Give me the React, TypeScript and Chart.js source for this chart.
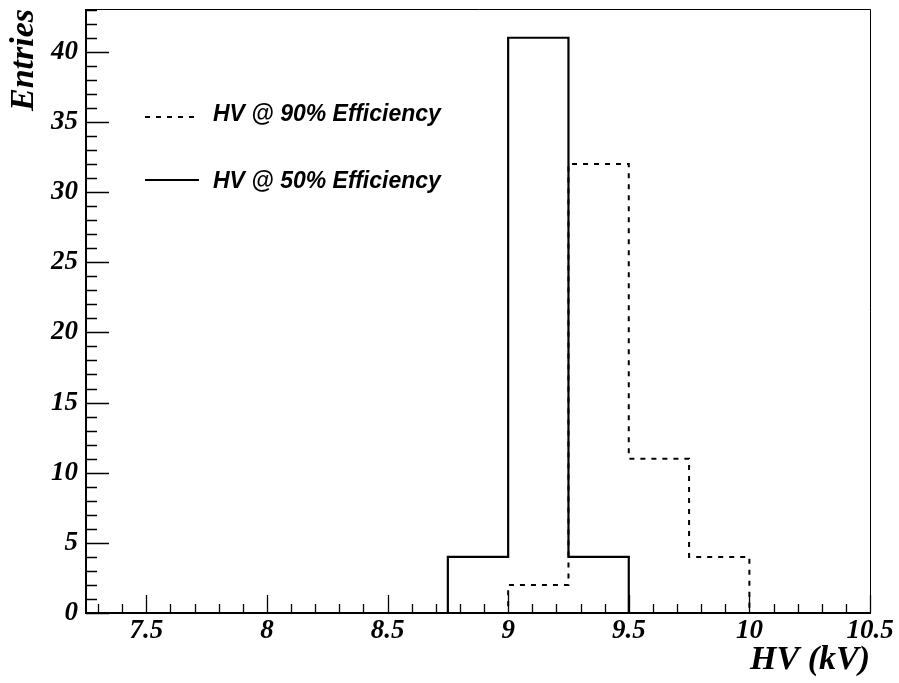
import React, { useEffect, useRef } from "react";
import { Chart, registerables } from "chart.js";

Chart.register(...registerables);

// Histogram bin edges (kV) and bin contents
const binEdges = [7.25, 7.5, 7.75, 8, 8.25, 8.5, 8.75, 9, 9.25, 9.5, 9.75, 10, 10.25, 10.5];
const eff90Counts = [0, 0, 0, 0, 0, 0, 0, 2, 32, 11, 4, 0, 0];
const eff50Counts = [0, 0, 0, 0, 0, 0, 4, 41, 4, 0, 0, 0, 0];
const seriesLabels = ["HV @ 90% Efficiency", "HV @ 50% Efficiency"];
const xLabelValues = [7.5, 8, 8.5, 9, 9.5, 10, 10.5];
const yLabelValues = [0, 5, 10, 15, 20, 25, 30, 35, 40];
const xTitle = "HV (kV)";
const yTitle = "Entries";

const X_MIN = 7.25;
const X_MAX = 10.5;
const Y_MAX = 41 * 1.05;

function histPoints(edges: number[], counts: number[]) {
  const pts = counts.map((c, i) => ({ x: edges[i], y: c }));
  pts.push({ x: edges[edges.length - 1], y: counts[counts.length - 1] });
  return pts;
}

const serifFont = "'Liberation Serif', 'Times New Roman', serif";
const sansFont = "'Liberation Sans', Arial, Helvetica, sans-serif";

const near = (a: number, b: number) => Math.abs(a - b) < 1e-6;

const framePlugin = {
  id: "rootFrame",
  beforeDatasetsDraw(chart: any) {
    const { ctx, chartArea } = chart;
    const { left, right, top, bottom } = chartArea;
    const xs = chart.scales.x;
    const ys = chart.scales.y;
    ctx.save();
    ctx.strokeStyle = "#000";
    // thin top/right frame
    ctx.lineWidth = 1;
    ctx.beginPath();
    ctx.moveTo(left, top + 0.5);
    ctx.lineTo(right + 0.5, top + 0.5);
    ctx.lineTo(right + 0.5, bottom);
    ctx.stroke();
    // ticks
    ctx.lineWidth = 1.3;
    ctx.beginPath();
    xs.ticks.forEach((t: any) => {
      const px = Math.round(xs.getPixelForValue(t.value)) + 0.5;
      const major = xLabelValues.some((v) => near(v, t.value));
      const len = major ? 18 : 9;
      ctx.moveTo(px, bottom);
      ctx.lineTo(px, bottom - len);
    });
    ys.ticks.forEach((t: any) => {
      const py = Math.round(ys.getPixelForValue(t.value)) + 0.5;
      const major = yLabelValues.some((v) => near(v, t.value));
      const len = major ? 23 : 11;
      ctx.moveTo(left, py);
      ctx.lineTo(left + len, py);
    });
    ctx.stroke();
    // thick left/bottom axes
    ctx.lineWidth = 2;
    ctx.beginPath();
    ctx.moveTo(left, top);
    ctx.lineTo(left, bottom);
    ctx.lineTo(right + 1, bottom);
    ctx.stroke();
    ctx.restore();
  },
};

const legendPlugin = {
  id: "rootLegend",
  afterDatasetsDraw(chart: any) {
    const { ctx } = chart;
    const rows = [
      { lineY: 117, textY: 115 },
      { lineY: 180, textY: 182 },
    ];
    ctx.save();
    chart.data.datasets.forEach((ds: any, i: number) => {
      const r = rows[i];
      ctx.strokeStyle = ds.borderColor;
      ctx.lineWidth = 2;
      ctx.setLineDash(ds.borderDash || []);
      ctx.beginPath();
      ctx.moveTo(145, r.lineY);
      ctx.lineTo(199, r.lineY);
      ctx.stroke();
      ctx.setLineDash([]);
      ctx.fillStyle = "#000";
      ctx.font = `italic bold 23px ${sansFont}`;
      ctx.textAlign = "left";
      ctx.textBaseline = "middle";
      ctx.fillText(ds.label, 213, r.textY);
    });
    ctx.restore();
  },
};

export default function App() {
  const canvasRef = useRef<HTMLCanvasElement | null>(null);

  useEffect(() => {
    if (!canvasRef.current) return;
    const tickFont = { family: serifFont, size: 27, style: "italic" as const, weight: "bold" as const };
    const titleFont = { family: serifFont, size: 34, style: "italic" as const, weight: "bold" as const };
    const chart = new Chart(canvasRef.current, {
      type: "line",
      data: {
        datasets: [
          {
            label: seriesLabels[0],
            data: histPoints(binEdges, eff90Counts),
            borderColor: "#000",
            borderWidth: 2,
            borderDash: [5, 6],
            stepped: "before",
            pointRadius: 0,
            fill: false,
          },
          {
            label: seriesLabels[1],
            data: histPoints(binEdges, eff50Counts),
            borderColor: "#000",
            borderWidth: 2.2,
            stepped: "before",
            pointRadius: 0,
            fill: false,
          },
        ],
      },
      options: {
        animation: false,
        responsive: false,
        events: [],
        layout: { padding: { top: 9, right: 29, left: 0, bottom: 0 } },
        plugins: {
          legend: { display: false },
          tooltip: { enabled: false },
          title: { display: false },
        },
        scales: {
          x: {
            type: "linear",
            min: X_MIN,
            max: X_MAX,
            grid: { display: false, drawTicks: false },
            border: { display: false },
            ticks: {
              stepSize: 0.1,
              includeBounds: false,
              autoSkip: false,
              maxRotation: 0,
              padding: 2,
              color: "#000",
              font: tickFont,
              callback: (v: any) => {
                const n = Number(v);
                const hit = xLabelValues.find((x) => near(x, n));
                return hit !== undefined ? String(hit) : "";
              },
            },
            title: {
              display: true,
              text: xTitle,
              align: "end",
              color: "#000",
              font: titleFont,
              padding: { top: 0, bottom: 2 },
            },
            afterFit: (s: any) => {
              s.height = 70;
              s.paddingLeft = 0;
              s.paddingRight = 0;
            },
          },
          y: {
            type: "linear",
            min: 0,
            max: Y_MAX,
            grid: { display: false, drawTicks: false },
            border: { display: false },
            ticks: {
              stepSize: 1,
              includeBounds: false,
              autoSkip: false,
              padding: 8,
              color: "#000",
              font: tickFont,
              callback: (v: any) => {
                const n = Number(v);
                const hit = yLabelValues.find((y) => near(y, n));
                return hit !== undefined ? String(hit) : "";
              },
            },
            title: {
              display: true,
              text: yTitle,
              align: "end",
              color: "#000",
              font: titleFont,
              padding: { top: 4, bottom: 0 },
            },
            afterFit: (s: any) => {
              s.width = 86;
              s.paddingTop = 0;
              s.paddingBottom = 0;
            },
          },
        },
      },
      plugins: [framePlugin, legendPlugin],
    });
    return () => chart.destroy();
  }, []);

  return (
    <div style={{ position: "fixed", left: 0, top: 0, width: 899, height: 683, background: "#fff" }}>
      <canvas ref={canvasRef} width={899} height={683} style={{ display: "block" }} />
    </div>
  );
}
